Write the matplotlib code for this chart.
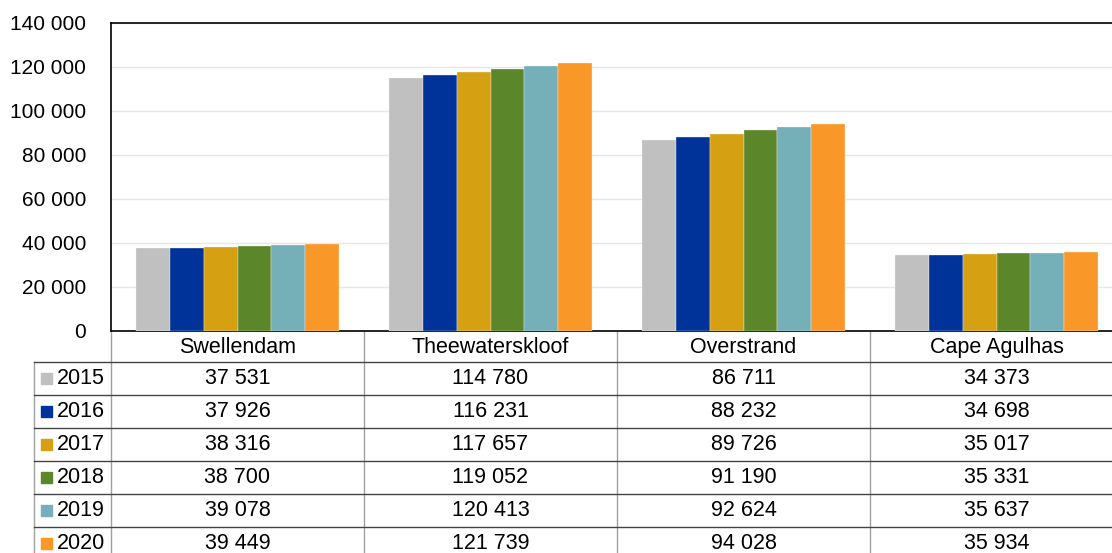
import matplotlib.pyplot as plt
import matplotlib.patches as mpatches

plt.rcParams['font.family'] = ['Liberation Sans', 'DejaVu Sans']

municipalities = ['Swellendam', 'Theewaterskloof', 'Overstrand', 'Cape Agulhas']
years = ['2015', '2016', '2017', '2018', '2019', '2020']

pop2015 = [37531, 114780, 86711, 34373]
pop2016 = [37926, 116231, 88232, 34698]
pop2017 = [38316, 117657, 89726, 35017]
pop2018 = [38700, 119052, 91190, 35331]
pop2019 = [39078, 120413, 92624, 35637]
pop2020 = [39449, 121739, 94028, 35934]
series = [pop2015, pop2016, pop2017, pop2018, pop2019, pop2020]

colors = ['#c0c0c0', '#003399', '#d6a013', '#5b862a', '#75b0b8', '#f99829']

yticks = [0, 20000, 40000, 60000, 80000, 100000, 120000, 140000]


def fmt(v):
    return '{:,}'.format(int(v)).replace(',', ' ')


W, H = 1112, 553
fig = plt.figure(figsize=(W / 100, H / 100), dpi=100)

# plot area in pixels: left edge, category width, top and bottom of the bars axes
left = 111
colw = 253
top = 23
base = 331
ax = fig.add_axes([left / W, (H - base) / H, 4 * colw / W, (base - top) / H])

n = len(series)
bw = 0.8 / n
for i, vals in enumerate(series):
    xs = [c - 0.4 + bw * (i + 0.5) for c in range(len(municipalities))]
    ax.bar(xs, vals, width=bw, color=colors[i], edgecolor='#f4f4f4', linewidth=0.25, zorder=3)

ax.set_xlim(-0.5, len(municipalities) - 0.5)
ax.set_ylim(0, 140000)
ax.set_yticks(yticks)
ax.set_yticklabels([fmt(t) for t in yticks], fontsize=15)
ax.set_xticks([])
ax.tick_params(axis='y', length=0, pad=18)
ax.grid(axis='y', color='#e6e6e6', linewidth=1, zorder=0)
for s in ['left', 'bottom', 'top']:
    ax.spines[s].set_color('black')
    ax.spines[s].set_linewidth(1.2)
ax.spines['right'].set_visible(False)

# data table underneath, laid out in figure pixels
tb = fig.add_axes([0, 0, 1, 1], zorder=-1)
tb.set_xlim(0, W)
tb.set_ylim(H, 0)
tb.axis('off')

keyleft = 34
head_bottom = 362
rowh = 33
nrows = len(years)
table_bottom = head_bottom + rowh * nrows

# vertical column lines
for c in range(len(municipalities) + 1):
    x = left + colw * c
    tb.plot([x, x], [base, table_bottom], color='#a0a0a0', lw=1)
tb.plot([keyleft, keyleft], [head_bottom, table_bottom], color='#a0a0a0', lw=1)

# horizontal row lines
for r in range(nrows + 1):
    y = head_bottom + rowh * r
    tb.plot([keyleft, W], [y, y], color='#444444', lw=1)

for c, name in enumerate(municipalities):
    tb.text(left + colw * (c + 0.5), (base + head_bottom) / 2 + 1, name,
            ha='center', va='center', fontsize=15.5)

for r, yr in enumerate(years):
    yc = head_bottom + rowh * (r + 0.5)
    tb.add_patch(mpatches.Rectangle((41, yc - 5.5), 11, 11, color=colors[r]))
    tb.text(57, yc, yr, ha='left', va='center', fontsize=15.5)
    for c in range(len(municipalities)):
        tb.text(left + colw * (c + 0.5), yc, fmt(series[r][c]),
                ha='center', va='center', fontsize=15.5)

fig.savefig('out.png', dpi=100)
